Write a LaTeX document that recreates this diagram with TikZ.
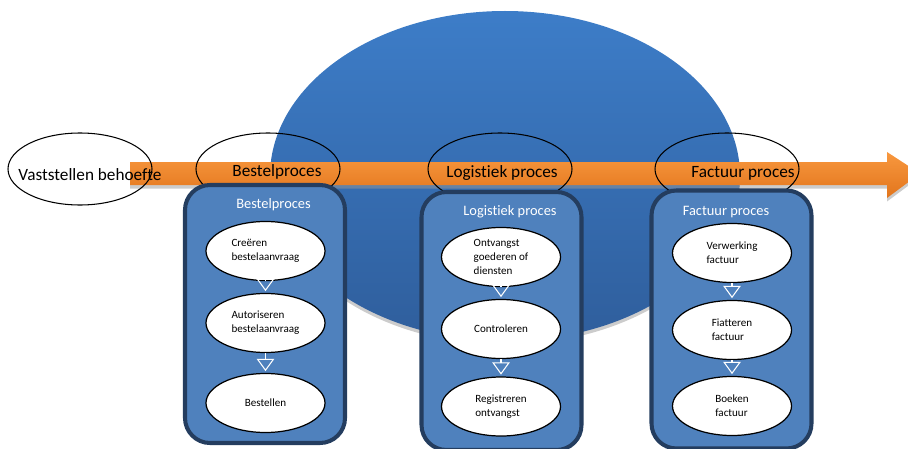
\documentclass[tikz,border=0pt]{standalone}
\usepackage{fontspec}
\setmainfont{Carlito}[Ligatures=NoCommon]
\usetikzlibrary{shapes,arrows.meta,shadows}

\definecolor{bigblue}{HTML}{3D7DC8}
\definecolor{bigblued}{HTML}{2F5E9C}
\definecolor{arrowor}{HTML}{F8983F}
\definecolor{arroword}{HTML}{E2751C}
\definecolor{boxblue}{HTML}{4F81BD}
\definecolor{boxline}{HTML}{243D5F}

\begin{document}
\begin{tikzpicture}[
  topell/.style={draw,ellipse,line width=0.6pt,minimum width=2.88cm,minimum height=1.44cm,inner sep=0pt},
  toptext/.style={font=\fontsize{9.8}{11.6}\selectfont,inner sep=0pt},
  procbox/.style={draw=boxline,fill=boxblue,line width=2.3pt,rounded corners=0.5cm,inner sep=0pt,minimum width=3.2cm,minimum height=5.16cm},
  boxtitle/.style={text=white,font=\fontsize{8.2}{10}\selectfont,inner sep=0pt},
  subell/.style={draw,fill=white,ellipse,line width=0.7pt,minimum width=2.38cm,minimum height=1.18cm,inner sep=0pt,align=left,font=\fontsize{6.3}{8}\selectfont},
  flow/.style={draw=white,line width=0.6pt,-{Triangle[open,length=7pt,width=10pt]},shorten >=1pt}
]
\useasboundingbox (0,0) rectangle (18.16,-8.98);

% achtergrond
\path[top color=bigblue,bottom color=bigblued,drop shadow={shadow xshift=0pt,shadow yshift=-2pt,fill=black!40}] (10.1,-3.52) ellipse (4.7 and 3.3);
\path[top color=arrowor,bottom color=arroword,drop shadow={shadow xshift=0pt,shadow yshift=-2pt,fill=black!40}]
  (2.6,-3.24) -- (17.74,-3.24) -- (17.74,-3.04) -- (18.4,-3.47) -- (17.74,-3.96) -- (17.74,-3.70) -- (2.6,-3.70) -- cycle;

% fasen op de pijl
\node[topell] (vast) at (1.6,-3.38) {};
\node[topell] (best) at (5.36,-3.38) {};
\node[topell] (logi) at (10.0,-3.38) {};
\node[topell] (fact) at (14.54,-3.38) {};
\node[toptext] (vasttxt) at (1.8,-3.5) {Vaststellen behoefte};
\node[toptext] (besttxt) at (5.54,-3.44) {Bestelproces};
\node[toptext] (logitxt) at (10.04,-3.46) {Logistiek proces};
\node[toptext] (facttxt) at (14.86,-3.46) {Factuur proces};

% processen
\node[procbox] (bbox) at (5.3,-6.28) {};
\node[procbox] (lbox) at (10.03,-6.42) {};
\node[procbox] (fbox) at (14.63,-6.39) {};
\node[boxtitle] (btitle) at (5.47,-4.1) {Bestelproces};
\node[boxtitle] (ltitle) at (10.2,-4.24) {Logistiek proces};
\node[boxtitle] (ftitle) at (14.52,-4.24) {Factuur proces};

\node[subell] (b1) at (5.31,-5.02) {Creëren\\bestelaanvraag};
\node[subell] (b2) at (5.31,-6.46) {Autoriseren\\bestelaanvraag};
\node[subell] (b3) at (5.31,-8.06) {Bestellen};
\node[subell] (l1) at (10.02,-5.14) {Ontvangst\\goederen of\\diensten};
\node[subell] (l2) at (10.02,-6.58) {Controleren};
\node[subell] (l3) at (10.02,-8.13) {Registreren\\ontvangst};
\node[subell] (f1) at (14.64,-5.06) {Verwerking\\factuur};
\node[subell] (f2) at (14.64,-6.6) {Fiatteren\\factuur};
\node[subell] (f3) at (14.64,-8.12) {Boeken\\factuur};

\draw[flow] (b1) -- (b2);
\draw[flow] (b2) -- (b3);
\draw[flow] (l1) -- (l2);
\draw[flow] (l2) -- (l3);
\draw[flow] (f1) -- (f2);
\draw[flow] (f2) -- (f3);
\end{tikzpicture}
\end{document}
